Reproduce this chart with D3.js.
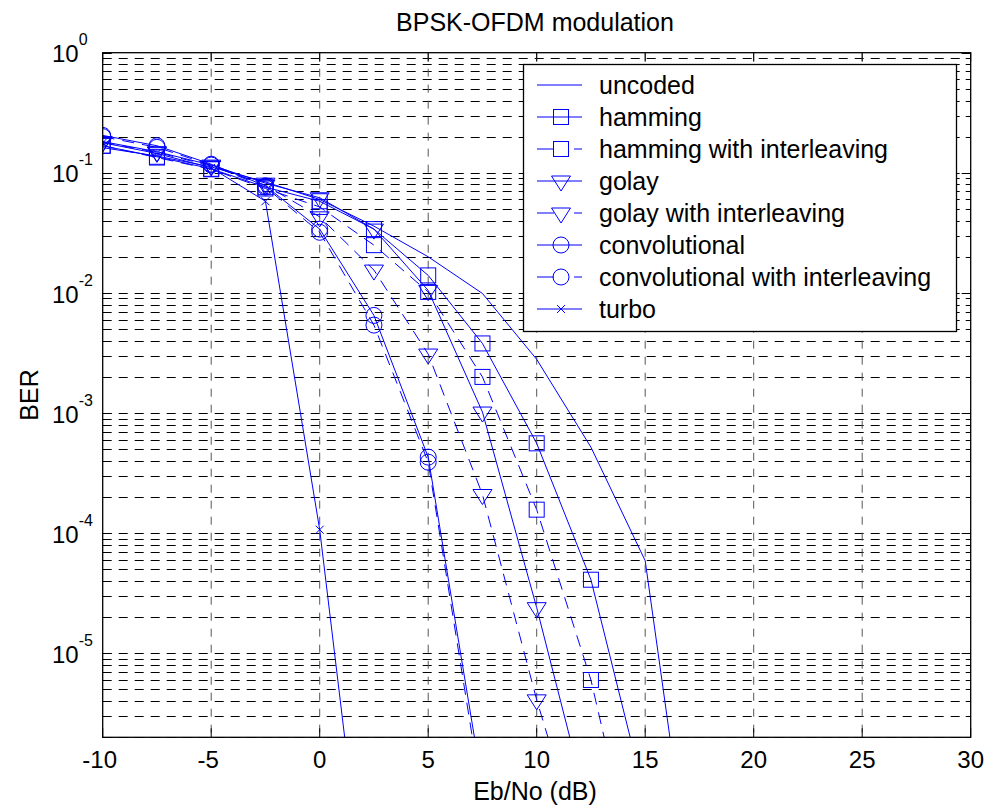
<!DOCTYPE html>
<html>
<head>
<meta charset="utf-8">
<script src="https://cdn.jsdelivr.net/npm/d3@7"></script>
<style>
  body { margin: 0; background: #fff; }
  svg { display: block; font-family: "Liberation Sans", Arial, Helvetica, sans-serif; }
</style>
</head>
<body>
<div id="chart"></div>
<script>
// Eb/No sample points (dB)
const ebno = [-10, -7.5, -5, -2.5, 0, 2.5, 5, 7.5, 10, 12.5, 15, 17.5];

// BER values (one array per curve)
const berUncoded = [0.162, 0.138, 0.112, 0.084, 0.060, 0.036, 0.020, 0.0099, 0.0028, 5.2e-4, 5.9e-5, 3.5e-8];
const berHamming = [0.168, 0.136, 0.108, 0.076, 0.058, 0.034, 0.014, 3.8e-3, 5.6e-4, 4.1e-5, 6.3e-7];
const berHammingInt = [0.168, 0.134, 0.107, 0.074, 0.052, 0.025, 0.0102, 2.0e-3, 1.57e-4, 6e-6, 6.6e-8];
const berGolay = [0.182, 0.150, 0.116, 0.082, 0.062, 0.034, 0.0105, 1.02e-3, 2.4e-5, 4.1e-7];
const berGolayInt = [0.180, 0.148, 0.114, 0.079, 0.043, 0.0155, 3.1e-3, 2.1e-4, 4.1e-6, 1.3e-7];
const berConv = [0.205, 0.168, 0.118, 0.078, 0.034, 6.5e-3, 4.3e-4, 7.9e-7];
const berConvInt = [0.200, 0.163, 0.116, 0.076, 0.032, 5.4e-3, 3.9e-4, 6e-7];
const berTurbo = [0.178, 0.145, 0.110, 0.058, 1.07e-4, 1.9e-8];

const seriesNames = [
  "uncoded", "hamming", "hamming with interleaving", "golay",
  "golay with interleaving", "convolutional", "convolutional with interleaving", "turbo"
];

const xTicks = [-10, -5, 0, 5, 10, 15, 20, 25, 30];
const yDecades = [0, -1, -2, -3, -4, -5];

const series = [
  { name: seriesNames[0], values: berUncoded, marker: null, dashed: false },
  { name: seriesNames[1], values: berHamming, marker: "square", dashed: false },
  { name: seriesNames[2], values: berHammingInt, marker: "square", dashed: true },
  { name: seriesNames[3], values: berGolay, marker: "tri", dashed: false },
  { name: seriesNames[4], values: berGolayInt, marker: "tri", dashed: true },
  { name: seriesNames[5], values: berConv, marker: "circle", dashed: false },
  { name: seriesNames[6], values: berConvInt, marker: "circle", dashed: true },
  { name: seriesNames[7], values: berTurbo, marker: "cross", dashed: false }
];

const W = 992, H = 812;
const plot = { left: 102.7, right: 970.7, top: 52.7, bottom: 737.3 };
const blue = "#0000ff";

const svg = d3.select("#chart").append("svg")
  .attr("width", W)
  .attr("height", H);

const x = d3.scaleLinear().domain([-10, 30]).range([plot.left, plot.right]);
const y = d3.scaleLog().domain([2e-6, 1]).range([plot.bottom, plot.top]);

svg.append("defs").append("clipPath").attr("id", "clip")
  .append("rect")
  .attr("x", plot.left).attr("y", plot.top)
  .attr("width", plot.right - plot.left)
  .attr("height", plot.bottom - plot.top);

// grid: every 1..9 x 10^k horizontally, every 5 dB vertically
const yGrid = [];
yDecades.forEach(p => {
  for (let m = 1; m <= 9; m++) {
    const v = m * Math.pow(10, p - 1);
    if (v >= 2e-6 && v < 1) yGrid.push(v);
  }
});

const grid = svg.append("g");
grid.selectAll(".hgrid")
  .data(yGrid)
  .join("line")
  .attr("x1", plot.left).attr("x2", plot.right)
  .attr("y1", d => Math.round(y(d)) + 0.5).attr("y2", d => Math.round(y(d)) + 0.5)
  .attr("stroke", "#000")
  .attr("stroke-dasharray", "9,7");

grid.selectAll(".vgrid")
  .data(xTicks.slice(1, -1))
  .join("line")
  .attr("x1", d => x(d)).attr("x2", d => x(d))
  .attr("y1", plot.top).attr("y2", plot.bottom)
  .attr("stroke", "#555")
  .attr("stroke-dasharray", "8,8");

// ticks on all four sides, pointing inward
const ticks = svg.append("g").attr("stroke", "#000");
xTicks.forEach(t => {
  ticks.append("line").attr("x1", x(t)).attr("x2", x(t))
    .attr("y1", plot.bottom).attr("y2", plot.bottom - 9);
  ticks.append("line").attr("x1", x(t)).attr("x2", x(t))
    .attr("y1", plot.top).attr("y2", plot.top + 9);
});
yGrid.concat([1]).forEach(v => {
  const major = Math.abs(Math.log10(v) - Math.round(Math.log10(v))) < 1e-9;
  const len = major ? 9 : 5;
  const yy = Math.round(y(v)) + 0.5;
  ticks.append("line").attr("x1", plot.left).attr("x2", plot.left + len)
    .attr("y1", yy).attr("y2", yy);
  ticks.append("line").attr("x1", plot.right).attr("x2", plot.right - len)
    .attr("y1", yy).attr("y2", yy);
});

// curves
const line = d3.line()
  .x((d, i) => x(ebno[i]))
  .y(d => y(d));

const curves = svg.append("g").attr("clip-path", "url(#clip)");

function drawMarker(g, type, cx, cy) {
  if (type === "square") {
    g.append("rect").attr("x", cx - 7.5).attr("y", cy - 7.5)
      .attr("width", 15).attr("height", 15)
      .attr("fill", "none").attr("stroke", blue);
  } else if (type === "circle") {
    g.append("circle").attr("cx", cx).attr("cy", cy).attr("r", 8)
      .attr("fill", "none").attr("stroke", blue);
  } else if (type === "tri") {
    g.append("path")
      .attr("d", `M${cx - 9.5},${cy - 5}L${cx + 9.5},${cy - 5}L${cx},${cy + 10}Z`)
      .attr("fill", "none").attr("stroke", blue);
  } else if (type === "cross") {
    g.append("path")
      .attr("d", `M${cx - 4},${cy - 4}L${cx + 4},${cy + 4}M${cx - 4},${cy + 4}L${cx + 4},${cy - 4}`)
      .attr("stroke", blue);
  }
}

series.forEach(s => {
  curves.append("path")
    .datum(s.values)
    .attr("d", line)
    .attr("fill", "none")
    .attr("stroke", blue)
    .attr("stroke-width", 1)
    .attr("stroke-dasharray", s.dashed ? "12,8" : null);
  if (s.marker) {
    s.values.forEach((v, i) => drawMarker(curves, s.marker, x(ebno[i]), y(v)));
  }
});

// axes frame
svg.append("rect")
  .attr("x", plot.left).attr("y", plot.top)
  .attr("width", plot.right - plot.left)
  .attr("height", plot.bottom - plot.top)
  .attr("fill", "none")
  .attr("stroke", "#000")
  .attr("stroke-width", 1.3);

// tick labels
svg.append("g").selectAll("text")
  .data(xTicks)
  .join("text")
  .attr("x", d => x(d) - (d < 0 ? 3 : 0))
  .attr("y", 768)
  .attr("text-anchor", "middle")
  .attr("font-size", 24)
  .text(d => d);

const yLabels = svg.append("g");
yDecades.forEach(p => {
  const t = yLabels.append("text")
    .attr("x", 52)
    .attr("y", y(Math.pow(10, p)) + 9.6)
    .attr("font-size", 24);
  t.append("tspan").text("10");
  t.append("tspan")
    .attr("dy", -17)
    .attr("font-size", 16)
    .text(p);
});

// titles
svg.append("text")
  .attr("x", 535).attr("y", 31)
  .attr("text-anchor", "middle")
  .attr("font-size", 25)
  .text("BPSK-OFDM modulation");

svg.append("text")
  .attr("x", 535).attr("y", 800)
  .attr("text-anchor", "middle")
  .attr("font-size", 25)
  .text("Eb/No (dB)");

svg.append("text")
  .attr("transform", "translate(38,395) rotate(-90)")
  .attr("text-anchor", "middle")
  .attr("font-size", 25)
  .text("BER");

// legend
const legend = svg.append("g");
legend.append("rect")
  .attr("x", 523.5).attr("y", 64.5)
  .attr("width", 433).attr("height", 267)
  .attr("fill", "#fff")
  .attr("stroke", "#000")
  .attr("stroke-width", 1.3);

series.forEach((s, i) => {
  const cy = 85 + i * 32;
  legend.append("line")
    .attr("x1", 537).attr("x2", 582)
    .attr("y1", cy).attr("y2", cy)
    .attr("stroke", blue)
    .attr("stroke-dasharray", s.dashed ? "17,20" : null);
  if (s.marker) drawMarker(legend, s.marker, 561, cy);
  legend.append("text")
    .attr("x", 599).attr("y", cy + 9)
    .attr("font-size", 25)
    .text(s.name);
});
</script>
</body>
</html>
